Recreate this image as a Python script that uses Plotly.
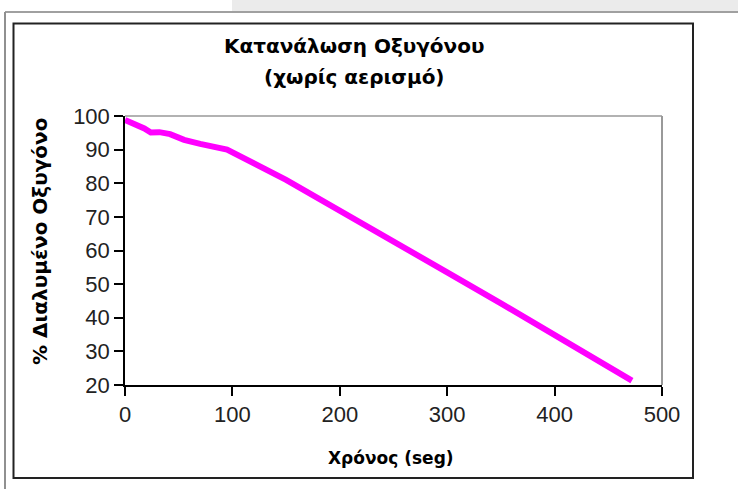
import plotly.graph_objects as go

# Data
time_s = [0, 10, 18, 24, 32, 42, 55, 70, 85, 95, 150, 200, 250, 300, 350, 400, 450, 472]
oxygen_pct = [98.8, 97.5, 96.3, 95.1, 95.2, 94.6, 92.9, 91.7, 90.8, 90.0, 81.0, 72.0, 62.8, 53.5, 44.3, 35.0, 25.5, 21.3]

x_ticks = [0, 100, 200, 300, 400, 500]
y_ticks = [20, 30, 40, 50, 60, 70, 80, 90, 100]

W, H = 738, 489
L, R, T, B = 125, 662, 116, 385

def px(x):
    return (x - L) / (R - L)

def py(y):
    return (B - y) / (B - T)

fig = go.Figure()
fig.add_trace(go.Scatter(
    x=time_s, y=oxygen_pct, mode="lines",
    line=dict(color="#ff00ff", width=6),
    hoverinfo="skip", showlegend=False,
))

shapes = [
    # top grey strip
    dict(type="rect", xref="paper", yref="paper", x0=px(232), x1=px(740), y0=py(-2), y1=py(11),
         fillcolor="#ebebeb", line=dict(width=0), layer="below"),
    # outer grey lines
    dict(type="line", xref="paper", yref="paper", x0=px(5), x1=px(740), y0=py(12), y1=py(12),
         line=dict(color="#a0a0a0", width=2)),
    dict(type="line", xref="paper", yref="paper", x0=px(5), x1=px(5), y0=py(12), y1=py(492),
         line=dict(color="#909090", width=2)),
    # chart frame
    dict(type="rect", xref="paper", yref="paper", x0=px(13.5), x1=px(693), y0=py(23.5), y1=py(478),
         line=dict(color="#222222", width=2)),
    # plot area top and right borders (grey)
    dict(type="line", xref="paper", yref="paper", x0=0, x1=1, y0=1, y1=1,
         line=dict(color="#999999", width=1.5)),
    dict(type="line", xref="paper", yref="paper", x0=1, x1=1, y0=0, y1=1,
         line=dict(color="#999999", width=2)),
]

title_font = "DejaVu Sans, Verdana, sans-serif"
annotations = [
    dict(text="<b>Κατανάλωση Οξυγόνου</b>", xref="paper", yref="paper",
         x=px(354), y=py(46), showarrow=False, xanchor="center", yanchor="middle",
         font=dict(family=title_font, size=20, color="#000")),
    dict(text="<b>(χωρίς αερισμό)</b>", xref="paper", yref="paper",
         x=px(354), y=py(77), showarrow=False, xanchor="center", yanchor="middle",
         font=dict(family=title_font, size=20, color="#000")),
    dict(text="<b>Χρόνος (seg)</b>", xref="paper", yref="paper",
         x=px(391), y=py(458), showarrow=False, xanchor="center", yanchor="middle",
         font=dict(family=title_font, size=17, color="#000")),
    dict(text="<b>% Διαλυμένο Οξυγόνο</b>", xref="paper", yref="paper",
         x=px(40), y=py(242), showarrow=False, xanchor="center", yanchor="middle",
         textangle=-90,
         font=dict(family=title_font, size=20, color="#000")),
]

tickfont = dict(family="Liberation Sans Narrow, Arial Narrow, Liberation Sans", size=22, color="#222")

fig.update_layout(
    width=W, height=H,
    margin=dict(l=L, r=W - R, t=T, b=H - B, pad=0),
    paper_bgcolor="#ffffff", plot_bgcolor="#ffffff",
    shapes=shapes, annotations=annotations,
    xaxis=dict(range=[0, 500], tickvals=x_ticks, showgrid=False, zeroline=False,
               showline=True, linecolor="#000", linewidth=1.5,
               ticks="outside", ticklen=9, tickcolor="#000", tickwidth=1.5,
               tickfont=tickfont, fixedrange=True),
    yaxis=dict(range=[20, 100], tickvals=y_ticks, showgrid=False, zeroline=False,
               showline=True, linecolor="#000", linewidth=1.5,
               ticks="outside", ticklen=9, tickcolor="#000", tickwidth=1.5,
               tickfont=tickfont, fixedrange=True),
)

fig.write_html(
    "out.html",
    config={"displayModeBar": False},
    post_script="document.body.style.margin='0px';document.body.style.overflow='hidden';",
)
